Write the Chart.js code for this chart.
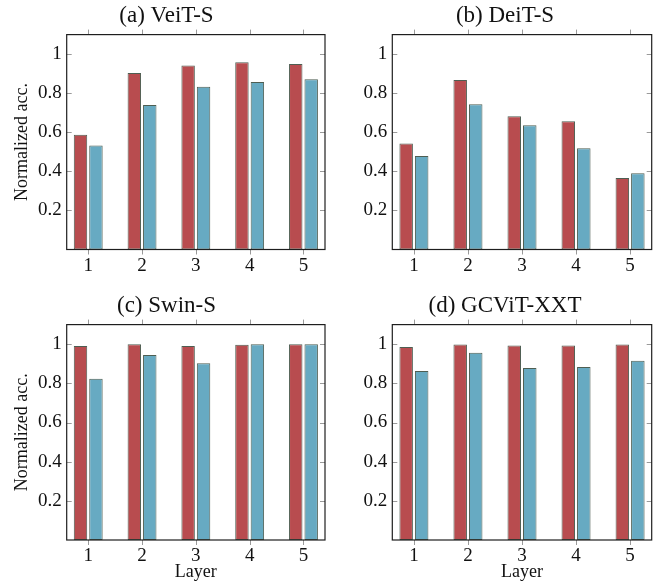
<!DOCTYPE html>
<html><head><meta charset="utf-8">
<script src="https://cdn.jsdelivr.net/npm/chart.js@4.4.0/dist/chart.umd.min.js"></script>
<style>
html,body{margin:0;padding:0;background:#fff;width:665px;height:583px;overflow:hidden}
canvas{position:absolute;display:block}
</style></head><body>
<canvas id="ca" width="335" height="290" style="left:0;top:0"></canvas>
<canvas id="cb" width="335" height="290" style="left:330px;top:0"></canvas>
<canvas id="cc" width="335" height="293" style="left:0;top:290px"></canvas>
<canvas id="cd" width="335" height="293" style="left:330px;top:290px"></canvas>
<script>
// ---- data ----
const layers = [1, 2, 3, 4, 5];
const yTicks = [0.2, 0.4, 0.6, 0.8, 1];
const titles = ['(a) VeiT-S', '(b) DeiT-S', '(c) Swin-S', '(d) GCViT-XXT'];
const yAxisLabel = 'Normalized acc.';
const xAxisLabel = 'Layer';

const veitRed  = [0.587, 0.904, 0.942, 0.959, 0.950];
const veitBlue = [0.532, 0.740, 0.833, 0.858, 0.872];
const deitRed  = [0.542, 0.867, 0.682, 0.657, 0.366];
const deitBlue = [0.479, 0.743, 0.636, 0.518, 0.390];
const swinRed  = [0.991, 1.000, 0.991, 0.997, 1.000];
const swinBlue = [0.824, 0.945, 0.903, 1.000, 1.000];
const gcvitRed = [0.986, 0.998, 0.993, 0.993, 0.998];
const gcvitBlue= [0.863, 0.956, 0.879, 0.884, 0.916];

// ---- styling ----
const RED = '#b84c4f', BLUE = '#67aac2', EDGE = '#4e5e52';
const SERIF = '"Liberation Serif", "Times New Roman", serif';
Chart.defaults.font.family = SERIF;
Chart.defaults.color = '#111';

const framePlugin = {
  id: 'frame',
  afterDatasetsDraw(chart) {
    const {ctx, chartArea: a, scales: {x, y}} = chart;
    ctx.save();
    ctx.strokeStyle = '#9a9a9a';
    ctx.lineWidth = 1;
    ctx.beginPath();
    yTicks.forEach(v => {
      const py = Math.round(y.getPixelForValue(v)) + 0.5;
      ctx.moveTo(a.left, py); ctx.lineTo(a.left + 5, py);
      ctx.moveTo(a.right - 5, py); ctx.lineTo(a.right, py);
    });
    layers.forEach(v => {
      const px = Math.round(x.getPixelForValue(v)) + 0.5;
      ctx.moveTo(px, a.top - 5); ctx.lineTo(px, a.top);
      ctx.moveTo(px, a.bottom); ctx.lineTo(px, a.bottom + 5);
    });
    ctx.stroke();
    ctx.strokeStyle = '#1e1e1e';
    ctx.lineWidth = 1.2;
    ctx.strokeRect(a.left, a.top, a.right - a.left, a.bottom - a.top);
    ctx.restore();
  }
};

function makeChart(id, title, red, blue, g) {
  new Chart(document.getElementById(id), {
    type: 'bar',
    data: {
      datasets: [
        { label: 'red', data: layers.map((l, i) => ({x: l, y: red[i]})),
          backgroundColor: RED, borderColor: EDGE, borderWidth: 1, borderSkipped: false },
        { label: 'blue', data: layers.map((l, i) => ({x: l, y: blue[i]})),
          backgroundColor: BLUE, borderColor: EDGE, borderWidth: 1, borderSkipped: false }
      ]
    },
    options: {
      responsive: false,
      animation: false,
      devicePixelRatio: 1,
      categoryPercentage: 0.574,
      barPercentage: 0.87,
      layout: { padding: { left: g.padL, right: g.padR, top: 0, bottom: 0 } },
      plugins: {
        legend: { display: false },
        tooltip: { enabled: false },
        title: { display: true, text: title, font: { size: 23, weight: 'normal' },
                 color: '#111', padding: { top: 2, bottom: 5 } }
      },
      scales: {
        x: {
          type: 'linear', min: 0.6, max: 5.4, offset: false,
          afterBuildTicks: s => { s.ticks = layers.map(v => ({value: v})); },
          afterFit: s => { s.height = g.xH; },
          grid: { display: false, drawTicks: false },
          border: { display: false },
          ticks: { font: { size: 19 }, padding: 5, maxRotation: 0, callback: v => String(v) },
          title: { display: g.xTitle, text: xAxisLabel, font: { size: 18 }, padding: { top: 0, bottom: 0 } }
        },
        y: {
          min: 0, max: 1.1,
          afterBuildTicks: s => { s.ticks = yTicks.map(v => ({value: v})); },
          afterFit: s => { s.width = g.yW; },
          grid: { display: false, drawTicks: false },
          border: { display: false },
          ticks: { font: { size: 19 }, padding: 5, callback: v => (v === 1 ? '1' : v.toFixed(1)) },
          title: { display: g.yTitle, text: yAxisLabel, font: { size: 18 }, padding: { top: 3, bottom: 0 } }
        }
      }
    },
    plugins: [framePlugin]
  });
}

makeChart('ca', titles[0], veitRed, veitBlue,  { padL: 8,    padR: 10,   yW: 58.7, xH: 40.5, yTitle: true,  xTitle: false });
makeChart('cb', titles[1], deitRed, deitBlue,  { padL: 28.3, padR: 13.3, yW: 34,   xH: 40.5, yTitle: false, xTitle: false });
makeChart('cc', titles[2], swinRed, swinBlue,  { padL: 8,    padR: 10,   yW: 58.7, xH: 43,   yTitle: true,  xTitle: true });
makeChart('cd', titles[3], gcvitRed, gcvitBlue,{ padL: 28.3, padR: 13.3, yW: 34,   xH: 43,   yTitle: false, xTitle: true });
</script>
</body></html>
